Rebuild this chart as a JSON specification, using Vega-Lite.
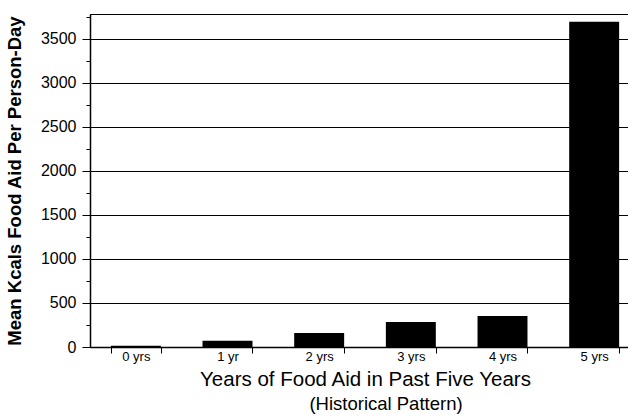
{
  "$schema": "https://vega.github.io/schema/vega-lite/v6.json",
  "width": 550,
  "height": 333,
  "autosize": {"type": "none"},
  "padding": {"left": 90, "top": 14, "right": 0, "bottom": 70},
  "background": "white",
  "view": {"stroke": "black", "strokeWidth": 1},
  "config": {
    "font": "Liberation Sans",
    "axis": {"labelColor": "black", "titleColor": "black", "domainColor": "black", "tickColor": "black", "gridColor": "black", "gridOpacity": 1}
  },
  "title": {
    "text": "(Historical Pattern)",
    "orient": "bottom",
    "anchor": "middle",
    "frame": "group",
    "dx": 21,
    "offset": 5,
    "fontSize": 18.5,
    "fontWeight": "normal",
    "color": "black",
    "font": "Liberation Sans"
  },
  "data": {
    "values": [
      {"years": "0 yrs", "kcal": 15},
      {"years": "1 yr", "kcal": 70},
      {"years": "2 yrs", "kcal": 159},
      {"years": "3 yrs", "kcal": 284},
      {"years": "4 yrs", "kcal": 352},
      {"years": "5 yrs", "kcal": 3693}
    ]
  },
  "layer": [
    {
      "mark": {"type": "bar", "color": "black"},
      "encoding": {
        "x": {
          "field": "years",
          "type": "nominal",
          "sort": null,
          "scale": {"paddingInner": 0.455, "paddingOuter": 0.2275},
          "axis": {
            "title": "Years of Food Aid in Past Five Years",
            "titleFontSize": 20.5,
            "titleFontWeight": "normal",
            "titlePadding": 6,
            "labelAngle": 0,
            "labelFontSize": 13,
            "labelPadding": -3,
            "tickSize": 6,
            "tickBand": "extent",
            "grid": false,
            "domainWidth": 1.5
          }
        },
        "y": {
          "field": "kcal",
          "type": "quantitative",
          "scale": {"domain": [0, 3780], "nice": false},
          "axis": {
            "title": "Mean Kcals Food Aid Per Person-Day",
            "titleFontSize": 18.5,
            "titleFontWeight": "bold",
            "titlePadding": 16,
            "values": [0, 500, 1000, 1500, 2000, 2500, 3000, 3500],
            "format": "d",
            "labelFontSize": 16,
            "labelPadding": 6,
            "tickSize": 8,
            "grid": true,
            "gridWidth": 1.2,
            "domainWidth": 1.5
          }
        }
      }
    },
    {
      "mark": {"type": "bar", "opacity": 0},
      "encoding": {
        "x": {"field": "years", "type": "nominal", "sort": null},
        "y": {
          "field": "kcal",
          "type": "quantitative",
          "axis": {
            "orient": "left",
            "title": null,
            "labels": false,
            "grid": false,
            "domain": false,
            "tickSize": 4,
            "values": [250, 750, 1250, 1750, 2250, 2750, 3250, 3750]
          }
        }
      }
    }
  ],
  "resolve": {"axis": {"y": "independent"}}
}
